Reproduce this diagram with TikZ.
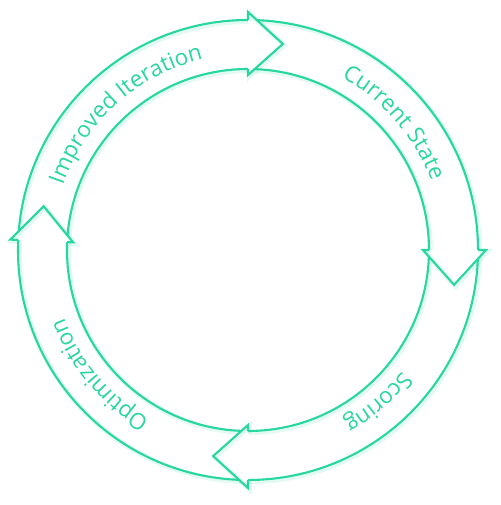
\documentclass[tikz,border=0pt]{standalone}
\usepackage{fontspec}
\setmainfont{Open Sans}
\usetikzlibrary{decorations.text}
\definecolor{ringc}{RGB}{40,214,160}
\newcommand\ringfont{\fontsize{22.5}{22.5}\selectfont\color{ringc}}
\begin{document}
\begin{tikzpicture}[x=1pt,y=1pt,
  ringline/.style={draw=ringc,line width=2.1pt,line join=miter},
  glow/.style={draw=ringc,line width=5pt,opacity=0.13},
  arclabel/.style={decorate,decoration={text along path,text align=center,text={|\ringfont|#1}}}]
\useasboundingbox (-248,-255) rectangle (252,250);
% ring
\draw[glow] (1.5,-1.5) circle[radius=230];
\draw[glow] (1.5,-1.5) circle[radius=181];
\draw[ringline] (0,0) circle[radius=230];
\draw[ringline] (0,0) circle[radius=181];
% arrow heads
\foreach \a in {90,0,-90,177.5}{
  \fill[white] (\a:238) -- (\a-9.6:209) -- (\a:175) -- cycle;
  \draw[glow,shift={(1.5,-1.5)}] (\a:230) -- (\a:238) -- (\a-9.6:209) -- (\a:175) -- (\a:181);
  \draw[ringline] (\a:230) -- (\a:238) -- (\a-9.6:209) -- (\a:175) -- (\a:181);
}
% labels
\path[arclabel={Improved Iteration}] (167:196) arc[start angle=167,end angle=97,radius=196];
\path[arclabel={Current State}] (76:196) arc[start angle=76,end angle=6,radius=196];
\path[arclabel={Scoring}] (-17:196) arc[start angle=-17,end angle=-82,radius=196];
\path[arclabel={Optimization}] (253:196) arc[start angle=253,end angle=187,radius=196];
\end{tikzpicture}
\end{document}
